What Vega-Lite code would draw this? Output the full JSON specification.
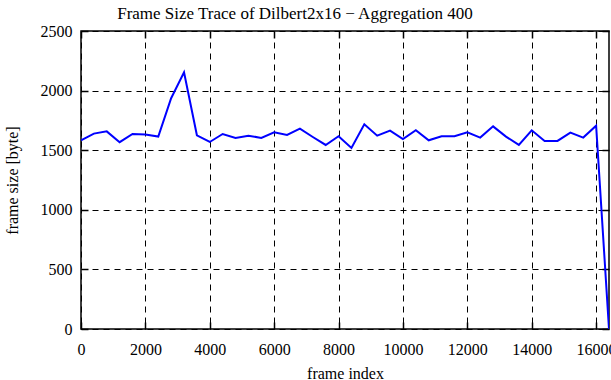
{
  "$schema": "https://vega.github.io/schema/vega-lite/v6.json",
  "autosize": {"type": "none"},
  "padding": {"left": 81, "top": 31, "right": 2, "bottom": 51},
  "width": 528,
  "height": 298,
  "background": "white",
  "title": {
    "text": "Frame Size Trace of Dilbert2x16 − Aggregation 400",
    "font": "Liberation Serif",
    "fontSize": 17,
    "fontWeight": "normal",
    "color": "black",
    "anchor": "middle",
    "dx": -50,
    "offset": 0
  },
  "config": {
    "view": {"stroke": "black", "strokeWidth": 1.5},
    "axis": {
      "labelFont": "Liberation Serif",
      "titleFont": "Liberation Serif",
      "labelFontSize": 16,
      "titleFontSize": 16,
      "titleFontWeight": "normal",
      "labelColor": "black",
      "titleColor": "black",
      "domain": false,
      "tickColor": "black",
      "tickSize": -7,
      "tickWidth": 1.5,
      "gridColor": "black",
      "gridDash": [6, 5],
      "gridOpacity": 1,
      "gridWidth": 1
    }
  },
  "data": {
    "values": [
      {"frame": 0, "size": 1583},
      {"frame": 400, "size": 1639},
      {"frame": 800, "size": 1658},
      {"frame": 1200, "size": 1567},
      {"frame": 1600, "size": 1636},
      {"frame": 2000, "size": 1631},
      {"frame": 2400, "size": 1614},
      {"frame": 2800, "size": 1936},
      {"frame": 3200, "size": 2153},
      {"frame": 3600, "size": 1625},
      {"frame": 4000, "size": 1569},
      {"frame": 4400, "size": 1636},
      {"frame": 4800, "size": 1603},
      {"frame": 5200, "size": 1622},
      {"frame": 5600, "size": 1603},
      {"frame": 6000, "size": 1650},
      {"frame": 6400, "size": 1628},
      {"frame": 6800, "size": 1681},
      {"frame": 7200, "size": 1611},
      {"frame": 7600, "size": 1544},
      {"frame": 8000, "size": 1617},
      {"frame": 8400, "size": 1519},
      {"frame": 8800, "size": 1717},
      {"frame": 9200, "size": 1622},
      {"frame": 9600, "size": 1664},
      {"frame": 10000, "size": 1594},
      {"frame": 10400, "size": 1667},
      {"frame": 10800, "size": 1583},
      {"frame": 11200, "size": 1617},
      {"frame": 11600, "size": 1617},
      {"frame": 12000, "size": 1650},
      {"frame": 12400, "size": 1606},
      {"frame": 12800, "size": 1700},
      {"frame": 13200, "size": 1614},
      {"frame": 13600, "size": 1544},
      {"frame": 14000, "size": 1667},
      {"frame": 14400, "size": 1578},
      {"frame": 14800, "size": 1578},
      {"frame": 15200, "size": 1647},
      {"frame": 15600, "size": 1606},
      {"frame": 16000, "size": 1706},
      {"frame": 16400, "size": 0}
    ]
  },
  "layer": [
    {
      "mark": {"type": "line", "color": "#0000ff", "strokeWidth": 2, "clip": true},
      "encoding": {
        "x": {
          "field": "frame", "type": "quantitative",
          "scale": {"domain": [0, 16400], "nice": false, "zero": false},
          "axis": {"title": "frame index", "values": [0, 2000, 4000, 6000, 8000, 10000, 12000, 14000, 16000], "format": "d", "labelPadding": 19, "titlePadding": 8, "labelFlush": false, "labelOverlap": false, "grid": true, "orient": "bottom"}
        },
        "y": {
          "field": "size", "type": "quantitative",
          "scale": {"domain": [0, 2500], "nice": false},
          "axis": {"title": "frame size [byte]", "values": [0, 500, 1000, 1500, 2000, 2500], "format": "d", "labelPadding": 16, "titlePadding": 20, "grid": true, "orient": "left"}
        }
      }
    },
    {
      "mark": {"type": "line", "opacity": 0},
      "encoding": {
        "x": {
          "field": "frame", "type": "quantitative",
          "axis": {"orient": "top", "labels": false, "title": null, "grid": false, "values": [0, 2000, 4000, 6000, 8000, 10000, 12000, 14000, 16000]}
        },
        "y": {
          "field": "size", "type": "quantitative",
          "axis": {"orient": "right", "labels": false, "title": null, "grid": false, "values": [0, 500, 1000, 1500, 2000, 2500]}
        }
      }
    }
  ],
  "resolve": {"axis": {"x": "independent", "y": "independent"}}
}
